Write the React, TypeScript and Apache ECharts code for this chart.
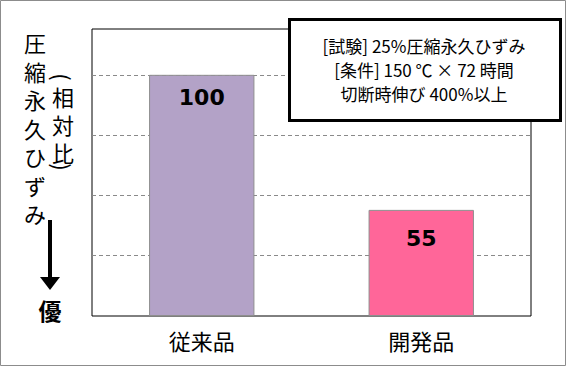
import React, { useEffect, useRef } from "react";
import * as echarts from "echarts";

const categories = ["従来品", "開発品"];
const barValues = [100, 44];
const valueLabels = ["100", "55"];
const barColors = ["#B3A2C7", "#FF6699"];
const labelDistances = [12, 18];
const yTitleMain = "圧縮永久ひずみ";
const yTitleSub = "相対比";
const noteLines = ["[試験] 25%圧縮永久ひずみ", "[条件] 150 ℃ × 72 時間", "切断時伸び 400%以上"];
const betterLabel = "優";

const JP = '"Noto Sans CJK JP", sans-serif';

function charColumn(text: string, x: number, y0: number, step: number) {
  return text.split("").map((ch, i) => ({
    type: "text",
    z: 100,
    x,
    y: y0 + i * step,
    style: { text: ch, fill: "#000", font: `22px ${JP}`, align: "center", verticalAlign: "middle" },
  }));
}

export default function App() {
  const ref = useRef<HTMLDivElement>(null);
  useEffect(() => {
    if (!ref.current) return;
    const chart = echarts.init(ref.current, null, { renderer: "svg" });
    chart.setOption({
      animation: false,
      backgroundColor: "#fff",
      grid: {
        left: 92,
        right: 35,
        top: 29,
        bottom: 50,
        show: true,
        borderColor: "#000",
        borderWidth: 1,
        backgroundColor: "transparent",
      },
      xAxis: {
        type: "category",
        data: categories,
        axisLine: { show: false },
        axisTick: { show: false },
        axisLabel: { color: "#000", fontSize: 22, fontFamily: JP, margin: 13 },
      },
      yAxis: {
        type: "value",
        min: 0,
        max: 119,
        interval: 25,
        axisLine: { show: false },
        axisTick: { show: false },
        axisLabel: { show: false },
        splitLine: {
          show: true,
          showMinLine: false,
          showMaxLine: false,
          lineStyle: { color: "#8a8a8a", type: [4, 3], width: 1 },
        },
      },
      series: [
        {
          type: "bar",
          barWidth: "48%",
          data: barValues.map((v, i) => ({
            value: v,
            itemStyle: { color: barColors[i], borderColor: "#8e8e8e", borderWidth: 1 },
            label: { distance: labelDistances[i] },
          })),
          label: {
            show: true,
            position: "insideTop",
            color: "#000",
            fontSize: 22,
            fontWeight: "bold",
            fontFamily: '"DejaVu Sans", sans-serif',
            formatter: (p: any) => valueLabels[p.dataIndex],
          },
        },
      ],
      graphic: [
        {
          type: "rect",
          z: 100,
          shape: { x: 0.5, y: 0.5, width: 565, height: 365 },
          style: { fill: "none", stroke: "#8c8c8c", lineWidth: 1 },
        },
        ...charColumn(yTitleMain, 35, 42, 28.5),
        ...charColumn(yTitleSub, 63, 96, 28),
        {
          type: "text",
          z: 100,
          x: 63,
          y: 77,
          rotation: -Math.PI / 2,
          style: { text: "(", fill: "#000", font: `22px ${JP}`, align: "center", verticalAlign: "middle" },
        },
        {
          type: "text",
          z: 100,
          x: 63,
          y: 167,
          rotation: -Math.PI / 2,
          style: { text: ")", fill: "#000", font: `22px ${JP}`, align: "center", verticalAlign: "middle" },
        },
        {
          type: "line",
          z: 100,
          shape: { x1: 50, y1: 220, x2: 50, y2: 279 },
          style: { stroke: "#000", lineWidth: 4 },
        },
        {
          type: "polygon",
          z: 100,
          shape: { points: [[40, 277], [60, 277], [50, 290]] },
          style: { fill: "#000" },
        },
        {
          type: "text",
          z: 100,
          x: 50,
          y: 310,
          style: {
            text: betterLabel,
            fill: "#000",
            font: `bold 23px ${JP}`,
            align: "center",
            verticalAlign: "middle",
          },
        },
        {
          type: "rect",
          z: 100,
          shape: { x: 289.5, y: 19.5, width: 271, height: 101 },
          style: { fill: "#fff", stroke: "#000", lineWidth: 3 },
        },
        ...noteLines.map((t, i) => ({
          type: "text",
          z: 101,
          x: 424,
          y: 45 + i * 24,
          style: {
            text: t,
            fill: "#000",
            font: `17px ${JP}`,
            align: "center",
            verticalAlign: "middle",
          },
        })),
      ],
    });
    return () => chart.dispose();
  }, []);
  return <div ref={ref} style={{ width: 566, height: 366, position: "absolute", left: 0, top: 0 }} />;
}
